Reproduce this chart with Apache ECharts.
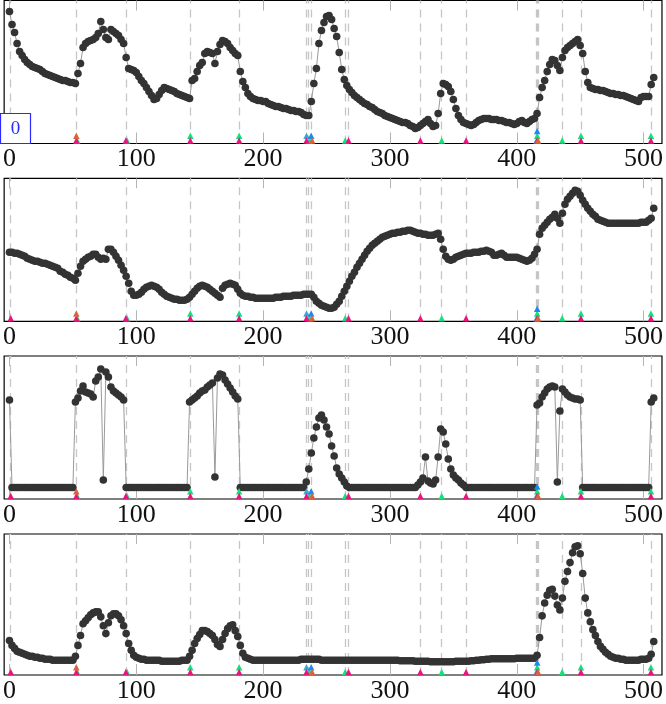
<!DOCTYPE html>
<html>
<head>
<meta charset="utf-8">
<script src="https://cdn.jsdelivr.net/npm/echarts@6/dist/echarts.min.js"></script>
<style>
html,body{margin:0;padding:0;background:#fff;}
#c{width:666px;height:704px;}
</style>
</head>
<body>
<div id="c"></div>
<script>
// sampling step of the series (index units)
const STEP = 2;
const xTicks = [0, 100, 200, 300, 400, 500];

// Panel values (one value every STEP indices, starting at 0)
const panel1 = [
 132,119,111,100,92,88,84,81,79,77,
 76,75,74,72,70,69,68,67,66,65,
 64,63,63,62,61,61,60,70,80,96,
 100,102,103,104,106,110,122,114,106,104,
 114,112,110,108,104,100,86,75,74,73,
 71,67,63,60,56,52,48,44,45,49,
 53,56,55,54,53,52,50,49,48,47,
 46,45,63,65,72,78,81,90,92,91,
 90,80,92,99,103,102,100,96,93,90,
 88,72,62,56,50,47,45,44,43,43,
 42,42,40,39,38,37,37,36,35,35,
 34,33,33,32,32,31,29,28,28,42,
 60,75,100,113,121,127,128,124,115,107,
 91,74,64,58,54,51,48,46,44,42,
 40,39,37,36,34,32,31,30,28,27,
 26,25,24,23,22,21,21,20,18,17,
 15,16,18,20,22,24,20,17,18,30,
 50,60,59,57,52,44,35,28,24,21,
 20,19,18,19,21,23,24,25,25,25,
 24,24,24,23,23,22,21,21,20,19,
 20,22,23,21,20,22,24,25,30,46,
 56,63,72,79,84,83,78,73,86,93,
 96,98,100,102,104,98,90,72,61,56,
 55,54,54,53,53,52,51,50,50,49,
 49,48,48,47,46,45,44,43,42,46,
 47,47,47,59,66
];
const panel2 = [
 69,69,68,68,67,66,65,63,62,61,
 60,60,59,58,58,57,56,55,54,53,
 50,49,47,46,44,43,41,48,55,60,
 62,64,65,67,67,64,62,63,62,72,
 72,69,65,61,56,51,45,38,30,26,
 26,27,29,32,34,35,36,35,34,32,
 29,27,25,24,23,22,22,21,21,21,
 22,24,27,30,33,35,36,35,34,32,
 30,28,26,24,33,36,37,38,37,36,
 32,28,26,25,25,24,24,23,23,23,
 23,23,23,23,23,24,24,24,25,25,
 25,25,26,26,26,26,27,27,27,27,
 24,20,18,16,15,14,13,13,14,17,
 20,25,30,35,40,45,49,54,58,62,
 66,70,73,76,78,80,82,84,85,86,
 87,88,88,89,89,90,90,91,91,90,
 89,88,88,87,87,86,86,86,87,88,
 82,72,65,62,61,62,64,65,66,67,
 68,68,68,69,69,69,70,70,71,70,
 69,66,66,67,68,66,64,64,64,64,
 64,63,62,61,60,61,63,67,72,87,
 93,96,99,102,104,107,103,98,108,117,
 122,125,128,131,130,126,121,117,113,110,
 107,105,102,101,100,99,98,98,98,98,
 98,98,98,98,98,98,98,98,98,99,
 99,99,101,103,113
];
const panel3 = [
 99,11.5,11.5,11.5,11.5,11.5,11.5,11.5,11.5,11.5,
 11.5,11.5,11.5,11.5,11.5,11.5,11.5,11.5,11.5,11.5,
 11.5,11.5,11.5,11.5,11.5,11.5,97,101,108,113,
 107,106,105,102,118,122,130,19,127,122,
 112,108,106,104,102,99,11.5,11.5,11.5,11.5,
 11.5,11.5,11.5,11.5,11.5,11.5,11.5,11.5,11.5,11.5,
 11.5,11.5,11.5,11.5,11.5,11.5,11.5,11.5,11.5,11.5,
 11.5,97,99,101,103,106,108,109,112,114,
 116,22,121,125,124,119,115,111,107,103,
 100,11.5,11.5,11.5,11.5,11.5,11.5,11.5,11.5,11.5,
 11.5,11.5,11.5,11.5,11.5,11.5,11.5,11.5,11.5,11.5,
 11.5,11.5,11.5,11.5,11.5,11.5,11.5,17,30,46,
 61,72,81,84,79,72,65,53,43,31,
 25,21,17,13,11.5,11.5,11.5,11.5,11.5,11.5,
 11.5,11.5,11.5,11.5,11.5,11.5,11.5,11.5,11.5,11.5,
 11.5,11.5,11.5,11.5,11.5,11.5,11.5,11.5,11.5,11.5,
 11.5,14,17,21,42,18,16,15,19,42,
 70,67,55,40,30,24,21,19,16,14,
 11.5,11.5,11.5,11.5,11.5,11.5,11.5,11.5,11.5,11.5,
 11.5,11.5,11.5,11.5,11.5,11.5,11.5,11.5,11.5,11.5,
 11.5,11.5,11.5,11.5,11.5,11.5,11.5,11.5,94,96,
 102,106,110,112,113,112,17,88,110,107,
 104,102,101,100,100,99,11.5,11.5,11.5,11.5,
 11.5,11.5,11.5,11.5,11.5,11.5,11.5,11.5,11.5,11.5,
 11.5,11.5,11.5,11.5,11.5,11.5,11.5,11.5,11.5,11.5,
 11.5,11.5,11.5,97,101
];
const panel4 = [
 35,30,27,24,23,22,21,20,19,19,
 18,18,17,17,16,16,16,15,15,15,
 15,15,15,15,15,15,19,30,40,52,
 55,58,61,63,64,64,59,50,42,53,
 60,62,62,60,56,50,42,32,25,20,
 18,17,16,16,15,15,15,15,15,15,
 14,14,14,14,14,14,14,14,15,15,
 15,19,25,32,37,41,45,45,44,42,
 40,36,31,29,36,42,47,50,51,45,
 39,30,22,18,17,16,15,15,15,15,
 15,15,15,15,15,15,15,15,15,15,
 15,15,15,15,15,16,16,16,16,16,
 16,16,16,15,15,15,15,15,15,15,
 15,15,15,15,15,15,15,15,15,15,
 15,15,15,15,15,15,15,15,15,15,
 15,15,15,15,14.5,14.5,14.5,14.5,14.5,14.5,
 14,14,14,14,14,14,13.5,13.5,13.5,13.5,
 13.5,13.5,13.5,13.5,13.5,13.5,14,14,14,14,
 14,14,14.5,14.5,15,15,15.5,15.5,16,16,
 16.5,16.5,16.5,16.5,16.5,16.5,16.5,16.5,16.5,16.5,
 17,17,17,17,17,17,17,17,20,38,
 60,73,81,86,87,80,71,66,78,95,
 105,114,124,130,131,123,103,78,63,54,
 46,40,34,29,26,23,21,19,18,17,
 17,16,16,15,15,15,15,15,15,16,
 16,16,17,21,34
];
const panels = [panel1, panel2, panel3, panel4];

// event positions (dashed vertical lines)
const eventLines = [1, 52.7, 92, 142.6, 181.1, 234.2, 235.8, 237.6, 264.7, 267.3, 324, 340.8, 360, 415.4, 416.1, 416.8, 435.8, 450.6, 505.8];
// event markers: [position, stack level]
const greenEvents  = [[53.4,0],[92.7,0],[142.6,1],[181.1,1],[236.6,0],[264.7,0],[340.8,0],[416.1,1],[435.8,0],[450.6,1],[505.8,1]];
const tealEvents   = [[234.2,1],[415.6,0]];
const blueEvents   = [[237.9,1],[416.1,2]];
const pinkEvents   = [[1,0],[52.7,0],[91.8,0],[142.6,0],[181.1,0],[234.2,0],[267.3,0],[324,0],[360,0],[416.1,0],[450.6,0],[505.8,0]];
const orangeEvents = [[52.7,1],[238.7,0],[416.8,0]];
const markerSets = [
  {data: greenEvents, color: '#16e07c'},
  {data: tealEvents, color: '#35a9cf'},
  {data: blueEvents, color: '#1e88f0'},
  {data: pinkEvents, color: '#ea1480'},
  {data: orangeEvents, color: '#d8643a'}
];

const gridTops = [0.5, 178.3, 356, 534];
const PH = 143;
const XMIN = -4.2, XMAX = 514.5;

const grid = [], xAxis = [], yAxis = [], series = [];
gridTops.forEach((top, g) => {
  grid.push({left: 1, right: 1.5, top: top, height: PH, show: true, borderColor: '#000', borderWidth: 1.2, backgroundColor: 'transparent'});
  xAxis.push({
    type: 'value', gridIndex: g, min: XMIN, max: XMAX, position: 'bottom',
    axisLine: {show: false}, splitLine: {show: false},
    axisTick: {show: true, inside: true, length: 11, customValues: xTicks, lineStyle: {color: '#b4b4b4', width: 1}},
    axisLabel: {show: true, customValues: xTicks, margin: 3, color: '#111', fontFamily: 'Liberation Serif', fontSize: 26}
  });
  xAxis.push({
    type: 'value', gridIndex: g, min: XMIN, max: XMAX, position: 'top',
    axisLine: {show: false}, splitLine: {show: false},
    axisTick: {show: true, inside: true, length: 10, customValues: xTicks, lineStyle: {color: '#b4b4b4', width: 1}},
    axisLabel: {show: false}
  });
  yAxis.push({type: 'value', gridIndex: g, min: 0, max: PH, show: false});

  // dashed event lines
  series.push({
    type: 'line', xAxisIndex: 2 * g, yAxisIndex: g, data: [], z: 1, silent: true,
    markLine: {
      silent: true, symbol: 'none', z: 1, animation: false,
      label: {show: false}, emphasis: {disabled: true},
      lineStyle: {color: '#c6c6c6', width: 1.3, type: [8, 6]},
      data: eventLines.map(x => ({xAxis: x}))
    }
  });
  // data series
  series.push({
    type: 'line', xAxisIndex: 2 * g, yAxisIndex: g, z: 3,
    data: panels[g].map((v, i) => [i * STEP, v]),
    symbol: 'circle', symbolSize: 7.6, showAllSymbol: true,
    itemStyle: {color: '#333333'},
    lineStyle: {color: '#9a9a9a', width: 1},
    emphasis: {disabled: true}, silent: true, animation: false
  });
  // event markers
  markerSets.forEach(ms => {
    series.push({
      type: 'scatter', xAxisIndex: 2 * g, yAxisIndex: g, z: 5, clip: false,
      symbol: 'triangle', symbolSize: [6.5, 6.5],
      itemStyle: {color: ms.color, opacity: 1},
      data: ms.data.map(d => [d[0], 3 + d[1] * 4.8]),
      silent: true, animation: false
    });
  });
});

const chart = echarts.init(document.getElementById('c'), null, {renderer: 'canvas'});
chart.setOption({
  animation: false,
  backgroundColor: '#ffffff',
  grid, xAxis, yAxis, series,
  graphic: [
    {type: 'rect', shape: {x: 0.5, y: 113.5, width: 30, height: 30}, style: {fill: '#ffffff', stroke: '#2a2aff', lineWidth: 1.2}, z: 100},
    {type: 'text', x: 15.5, y: 129, style: {text: '0', align: 'center', verticalAlign: 'middle', font: '19px "Liberation Serif"', fill: '#2a2aff'}, z: 101}
  ]
});
</script>
</body>
</html>
